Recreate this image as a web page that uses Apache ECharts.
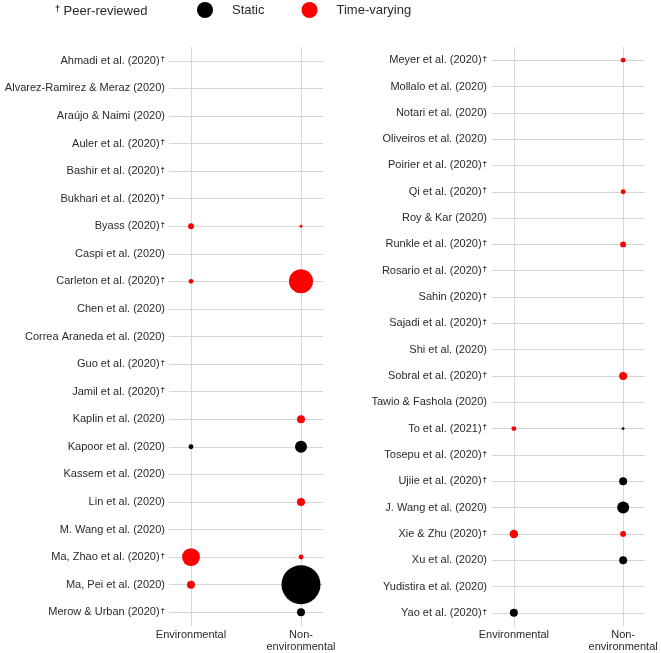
<!DOCTYPE html>
<html>
<head>
<meta charset="utf-8">
<script src="https://cdn.jsdelivr.net/npm/echarts@6/dist/echarts.min.js"></script>
<style>
  html, body { margin: 0; padding: 0; background: #fff; }
  #chart { width: 661px; height: 653px; }
</style>
</head>
<body>
<div id="chart"></div>
<script>
const exposureTypes = ['Environmental', 'Non-environmental']

const leftStudies = [
  'Ahmadi et al. (2020)', 'Alvarez-Ramirez & Meraz (2020)', 'Araújo & Naimi (2020)',
  'Auler et al. (2020)', 'Bashir et al. (2020)', 'Bukhari et al. (2020)', 'Byass (2020)',
  'Caspi et al. (2020)', 'Carleton et al. (2020)', 'Chen et al. (2020)',
  'Correa Araneda et al. (2020)', 'Guo et al. (2020)', 'Jamil et al. (2020)',
  'Kaplin et al. (2020)', 'Kapoor et al. (2020)', 'Kassem et al. (2020)', 'Lin et al. (2020)',
  'M. Wang et al. (2020)', 'Ma, Zhao et al. (2020)', 'Ma, Pei et al. (2020)',
  'Merow & Urban (2020)'
]

const rightStudies = [
  'Meyer et al. (2020)', 'Mollalo et al. (2020)', 'Notari et al. (2020)',
  'Oliveiros et al. (2020)', 'Poirier et al. (2020)', 'Qi et al. (2020)', 'Roy & Kar (2020)',
  'Runkle et al. (2020)', 'Rosario et al. (2020)', 'Sahin (2020)', 'Sajadi et al. (2020)',
  'Shi et al. (2020)', 'Sobral et al. (2020)', 'Tawio & Fashola (2020)', 'To et al. (2021)',
  'Tosepu et al. (2020)', 'Ujiie et al. (2020)', 'J. Wang et al. (2020)', 'Xie & Zhu (2020)',
  'Xu et al. (2020)', 'Yudistira et al. (2020)', 'Yao et al. (2020)'
]

const peerReviewed = [
  'Ahmadi et al. (2020)', 'Auler et al. (2020)', 'Bashir et al. (2020)', 'Bukhari et al. (2020)',
  'Byass (2020)', 'Carleton et al. (2020)', 'Guo et al. (2020)', 'Jamil et al. (2020)',
  'Ma, Zhao et al. (2020)', 'Merow & Urban (2020)',
  'Meyer et al. (2020)', 'Poirier et al. (2020)', 'Qi et al. (2020)', 'Runkle et al. (2020)',
  'Rosario et al. (2020)', 'Sahin (2020)', 'Sajadi et al. (2020)', 'Sobral et al. (2020)',
  'To et al. (2021)', 'Tosepu et al. (2020)', 'Ujiie et al. (2020)', 'Xie & Zhu (2020)',
  'Yao et al. (2020)'
]

// [exposure type index, study, weight]
const leftStatic = [
  [0, 'Kapoor et al. (2020)', 1.5],
  [1, 'Kapoor et al. (2020)', 9],
  [1, 'Ma, Pei et al. (2020)', 95],
  [1, 'Merow & Urban (2020)', 4]
]
const leftTimeVarying = [
  [0, 'Byass (2020)', 2.2],
  [1, 'Byass (2020)', 0.5],
  [0, 'Carleton et al. (2020)', 1.5],
  [1, 'Carleton et al. (2020)', 36],
  [1, 'Kaplin et al. (2020)', 4],
  [1, 'Lin et al. (2020)', 4],
  [0, 'Ma, Zhao et al. (2020)', 20],
  [1, 'Ma, Zhao et al. (2020)', 1.5],
  [0, 'Ma, Pei et al. (2020)', 4]
]
const rightStatic = [
  [1, 'To et al. (2021)', 0.5],
  [1, 'Ujiie et al. (2020)', 4],
  [1, 'J. Wang et al. (2020)', 9],
  [1, 'Xu et al. (2020)', 4],
  [0, 'Yao et al. (2020)', 4]
]
const rightTimeVarying = [
  [1, 'Meyer et al. (2020)', 1.5],
  [1, 'Qi et al. (2020)', 1.5],
  [1, 'Runkle et al. (2020)', 2.2],
  [1, 'Sobral et al. (2020)', 4],
  [0, 'To et al. (2021)', 1.5],
  [0, 'Xie & Zhu (2020)', 4.5],
  [1, 'Xie & Zhu (2020)', 2.2]
]

const FONT = 'Liberation Sans'
const GRID_COLOR = '#d6d6d6'
const TEXT_COLOR = '#2a2a2a'

const chart = echarts.init(document.getElementById('chart'))

const daggerRich = {
  d: { fontSize: 8, fontWeight: 'bold', verticalAlign: 'top', lineHeight: 8, color: TEXT_COLOR, padding: [0, 0, 0, 1] }
}

const makeX = (gridIndex) => ({
  type: 'value',
  gridIndex,
  min: -0.2,
  max: 1.2,
  interval: 0.2,
  axisLine: { show: false },
  axisTick: { show: false },
  axisLabel: {
    margin: 3,
    fontFamily: FONT,
    fontSize: 11,
    lineHeight: 12,
    color: TEXT_COLOR,
    formatter: (v) => {
      if (Math.abs(v) < 1e-6) return exposureTypes[0]
      if (Math.abs(v - 1) < 1e-6) return 'Non-\nenvironmental'
      return ''
    }
  },
  splitLine: {
    lineStyle: {
      width: 1,
      color: ['rgba(0,0,0,0)', GRID_COLOR, 'rgba(0,0,0,0)', 'rgba(0,0,0,0)',
        'rgba(0,0,0,0)', 'rgba(0,0,0,0)', GRID_COLOR, 'rgba(0,0,0,0)']
    }
  }
})

const makeY = (gridIndex, studies, margin) => ({
  type: 'category',
  gridIndex,
  data: studies,
  inverse: true,
  boundaryGap: true,
  axisLine: { show: false },
  axisTick: { show: false },
  axisLabel: {
    interval: 0,
    margin,
    fontFamily: FONT,
    fontSize: 11,
    color: TEXT_COLOR,
    formatter: (name) => (peerReviewed.includes(name) ? name + '{d|†}' : name),
    rich: daggerRich
  },
  splitLine: {
    show: true,
    interval: 0,
    alignWithLabel: true,
    lineStyle: { color: GRID_COLOR, width: 1 }
  }
})

const sizeOf = (val) => 4 * Math.sqrt(val[2])

const makeSeries = (name, color, idx, data) => ({
  name,
  type: 'scatter',
  xAxisIndex: idx,
  yAxisIndex: idx,
  data,
  symbol: 'circle',
  symbolSize: sizeOf,
  itemStyle: { color, opacity: 1 },
  silent: true,
  animation: false
})

const option = {
  backgroundColor: '#fff',
  animation: false,
  title: {
    text: '{d|†} Peer-reviewed',
    left: 55,
    top: 5,
    padding: 0,
    textStyle: {
      fontFamily: FONT,
      fontSize: 13,
      fontWeight: 'normal',
      color: TEXT_COLOR,
      rich: {
        d: { fontSize: 9, fontWeight: 'bold', verticalAlign: 'top', lineHeight: 9, color: TEXT_COLOR }
      }
    }
  },
  legend: {
    left: 197,
    top: 2,
    padding: 0,
    data: ['Static', 'Time-varying'],
    icon: 'circle',
    itemWidth: 16,
    itemHeight: 16,
    itemGap: 37,
    textStyle: {
      fontFamily: FONT,
      fontSize: 13,
      color: TEXT_COLOR,
      padding: [0, 0, 0, 14]
    }
  },
  grid: [
    { left: 169, width: 154, top: 47, bottom: 26.5 },
    { left: 492, width: 153, top: 47, bottom: 26.5 }
  ],
  xAxis: [makeX(0), makeX(1)],
  yAxis: [makeY(0, leftStudies, 4), makeY(1, rightStudies, 5)],
  series: [
    makeSeries('Static', '#000000', 0, leftStatic),
    makeSeries('Time-varying', '#ff0000', 0, leftTimeVarying),
    makeSeries('Static', '#000000', 1, rightStatic),
    makeSeries('Time-varying', '#ff0000', 1, rightTimeVarying)
  ]
}

chart.setOption(option)
</script>
</body>
</html>
